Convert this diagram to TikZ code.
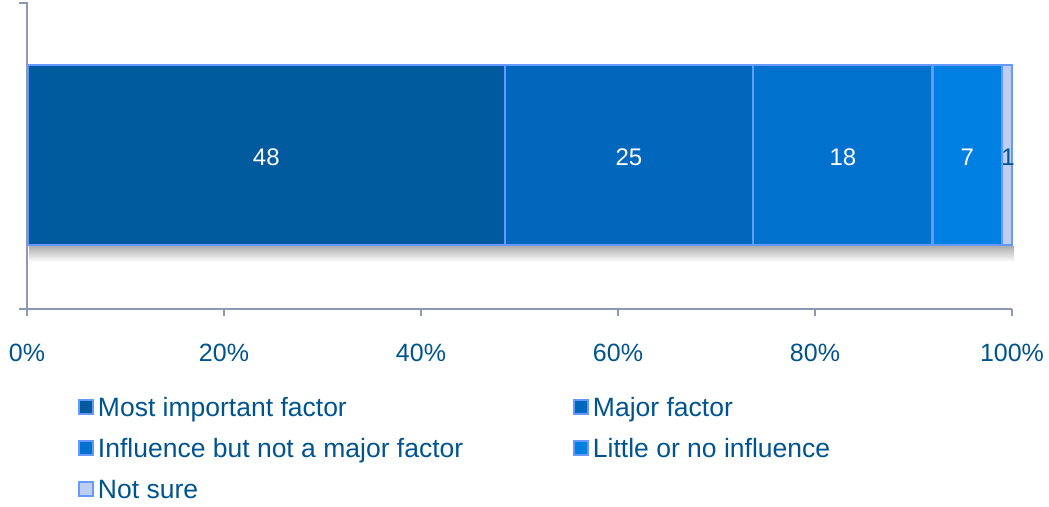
\documentclass[tikz,border=0pt]{standalone}
\usepackage{fontspec}
\setmainfont{Liberation Sans}
\usepackage{tikz}
\usetikzlibrary{positioning}
\definecolor{segA}{RGB}{0,90,158}
\definecolor{segB}{RGB}{0,104,188}
\definecolor{segC}{RGB}{0,114,206}
\definecolor{segD}{RGB}{0,128,226}
\definecolor{segE}{RGB}{190,206,240}
\definecolor{segedge}{RGB}{102,153,255}
\definecolor{axisgray}{RGB}{140,152,182}
\definecolor{txtblue}{RGB}{0,84,142}

\begin{document}
\begin{tikzpicture}[x=1pt,y=-1pt,
seg/.style={draw=segedge,line width=2.2pt},
vlbl/.style={text=white,font=\fontsize{24}{28}\selectfont},
axisline/.style={draw=axisgray,line width=2.4pt},
ticklbl/.style={text=txtblue,font=\fontsize{25}{30}\selectfont},
leglbl/.style={text=txtblue,font=\fontsize{26.5}{30}\selectfont,anchor=west,inner sep=0pt,text height=19pt,text depth=0pt},
legbox/.style={draw=segedge,line width=2pt,minimum size=13.5pt,inner sep=0pt}]
\useasboundingbox (0,0) rectangle (1049,506);
% axes
\draw[axisline] (19,3) -- (27,3) -- (27,316);
\draw[axisline] (19,309) -- (1012,309);
\foreach \t in {0,20,40,60,80,100} {
   \draw[axisline] ({27+9.85*\t},309) -- ++(0,7);
   \node[ticklbl] (t\t) at ({27+9.85*\t},353) {\t\%};
}
% shadow under the bar
\shade[top color=black!32,bottom color=white] (29,246) rectangle (1014,262);
% bar
\foreach \l/\r/\c/\v/\n in %
{28/504.6/segA/48/sa,504.6/753.3/segB/25/sb,753.3/932.5/segC/18/sc,932.5/1002.1/segD/7/sd} {
   \draw[seg,fill=\c] (\l,65) rectangle (\r,245);
   \node[vlbl] (\n) at ({(\l+\r)/2},157) {\v};
}
\draw[seg,fill=segE] (1002.1,65) rectangle (1012,245);
\node[vlbl,text=txtblue] (se) at (1008,157) {1};
% legend
\foreach \x/\y/\c/\t/\n in %
{86/407/segA/Most important factor/a,581/407/segB/Major factor/b,
 86/448/segC/Influence but not a major factor/c,581/448/segD/Little or no influence/d,
 86/489/segE/Not sure/e} {
   \node[legbox,fill=\c] (k\n) at (\x,\y) {};
   \node[leglbl,right=4pt of k\n] (l\n) {\t};
}
\end{tikzpicture}
\end{document}
